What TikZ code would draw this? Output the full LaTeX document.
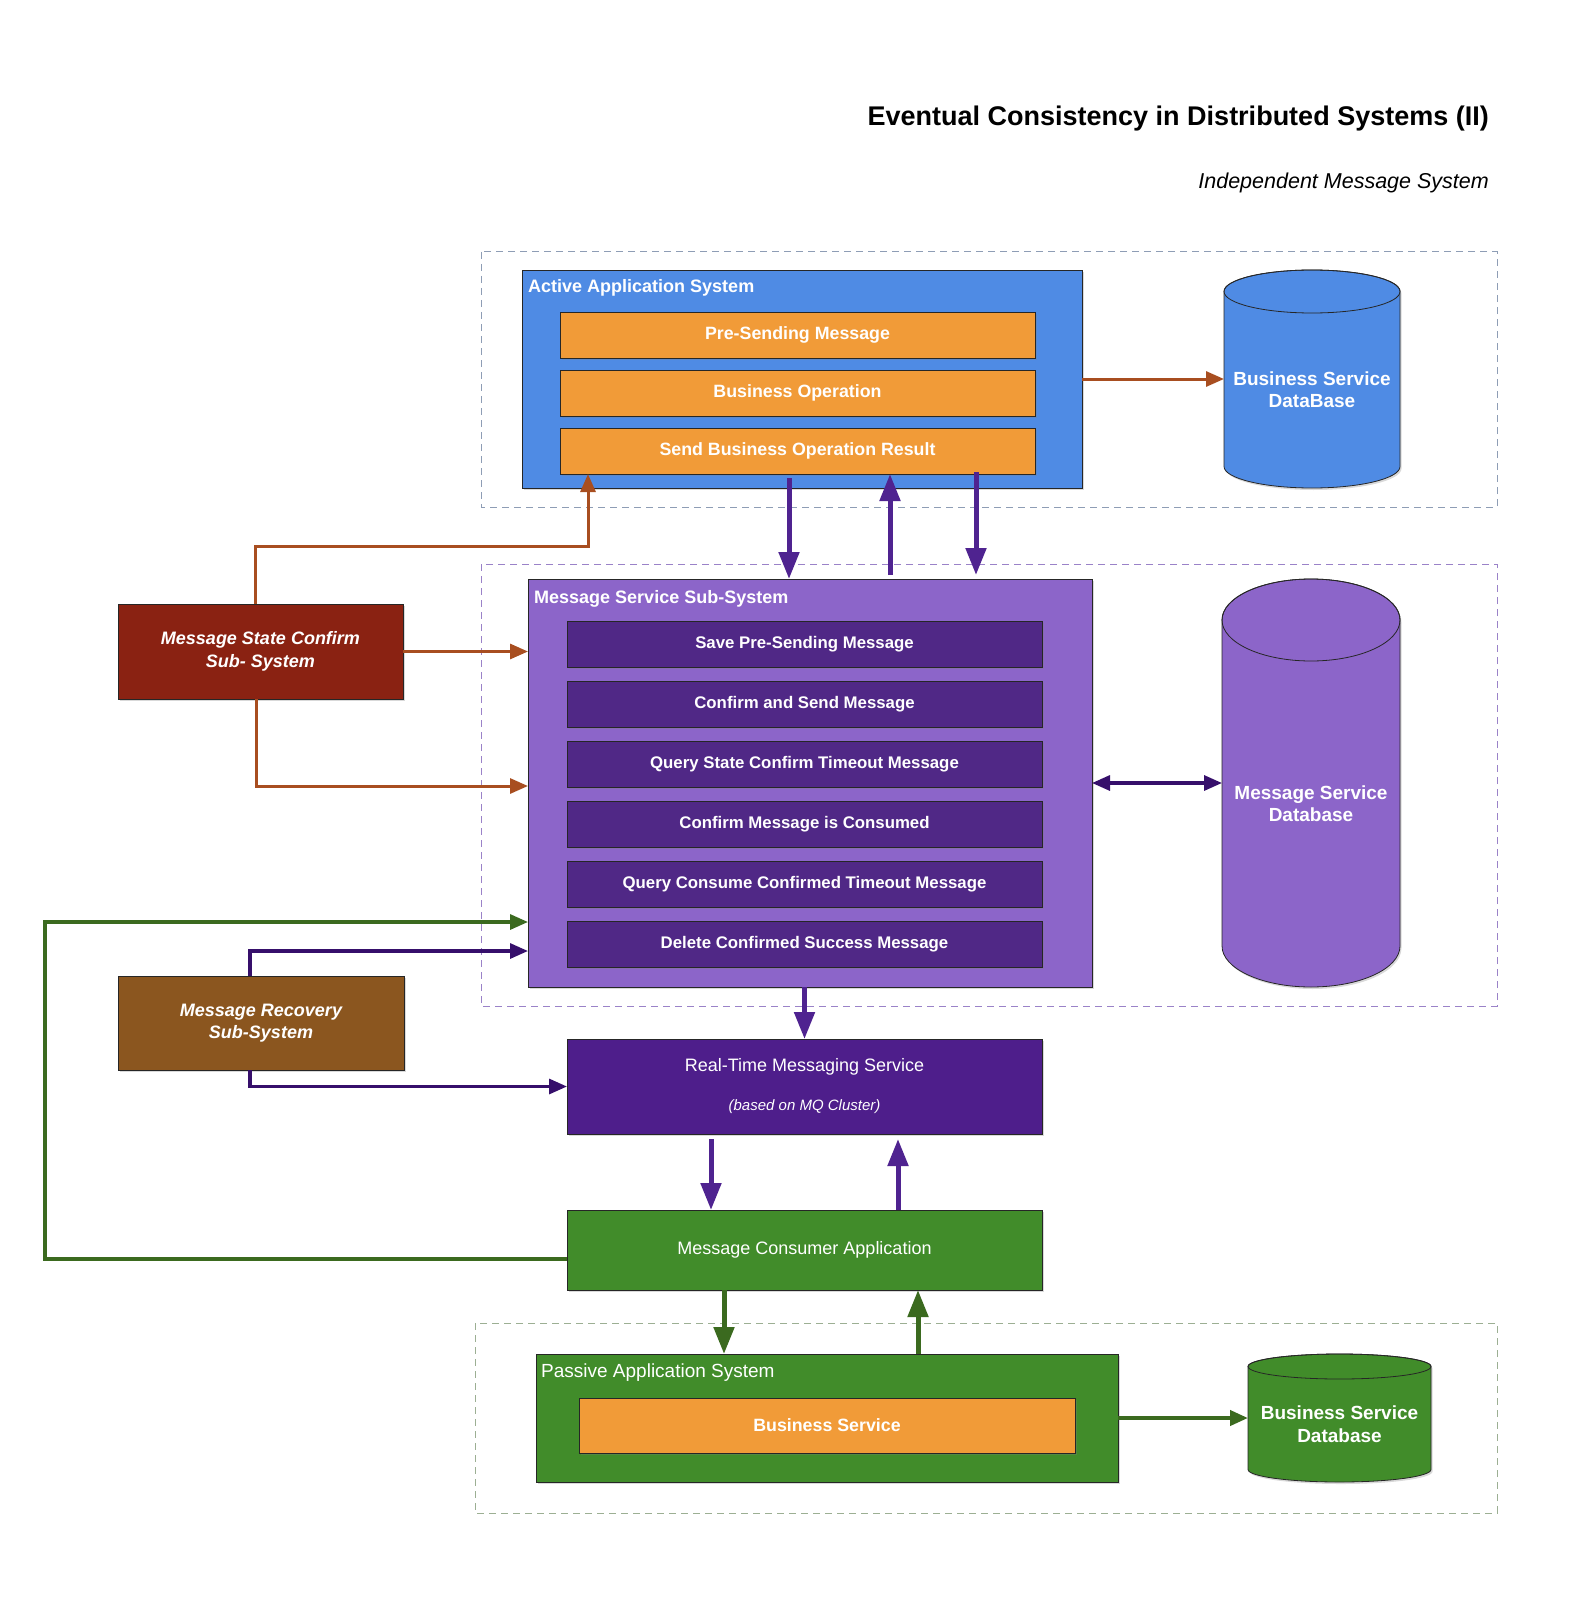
\documentclass[tikz,border=0pt]{standalone}
\usepackage{fontspec}
\setmainfont{Liberation Sans}
\usetikzlibrary{arrows.meta,shadows}

\definecolor{appblue}{HTML}{4F8BE4}
\definecolor{taskorange}{HTML}{F19B38}
\definecolor{msgpurple}{HTML}{8C65C9}
\definecolor{taskpurple}{HTML}{502886}
\definecolor{mqpurple}{HTML}{4E1E8B}
\definecolor{confirmred}{HTML}{8A2212}
\definecolor{recoverbrown}{HTML}{8B561F}
\definecolor{appgreen}{HTML}{418C2A}
\definecolor{linegreen}{HTML}{3B6A1F}
\definecolor{linebrown}{HTML}{A84E20}
\definecolor{lineviolet}{HTML}{4F2390}
\definecolor{linedark}{HTML}{360F6B}
\definecolor{frameblue}{HTML}{8E9DB5}
\definecolor{framepurple}{HTML}{9A82C8}
\definecolor{framegreen}{HTML}{9CAF93}

% name, x, y, width, height, cap, colour, text
\newcommand{\database}[8]{%
  \node[dbspace, minimum width=#4, minimum height=#5] (#1) at (#2,#3) {};
  \filldraw[fill=#7, dbline, drop shadow={shadow xshift=1.5pt, shadow yshift=-2pt, opacity=0.3}]
    ([yshift=-#6pt]#1.north west) -- ([yshift=#6pt]#1.south west)
    arc[start angle=180, end angle=360, x radius=#4pt/2, y radius=#6pt]
    -- ([yshift=-#6pt]#1.north east)
    arc[start angle=0, end angle=180, x radius=#4pt/2, y radius=#6pt] -- cycle;
  \draw[dbline] ([yshift=-#6pt]#1.north) ellipse[x radius=#4pt/2, y radius=#6pt];
  \node[dbtext] (#1 text) at ([yshift=-#6pt/2]#1.center) {#8};
}

\begin{document}
\begin{tikzpicture}[x=1pt, y=-1pt,
    box/.style={draw=black!85, line width=0.8pt, anchor=north west, inner sep=0pt, outer sep=0pt,
      text=white, align=center, drop shadow={shadow xshift=1.5pt, shadow yshift=-2pt, opacity=0.3}},
    boxtitle/.style={anchor=base west, inner sep=0pt, text=white, font=\fontsize{18}{22}\selectfont\bfseries},
    orangetask/.style={box, fill=taskorange, minimum width=475, minimum height=46, font=\fontsize{17.8}{21}\selectfont\bfseries},
    purpletask/.style={box, fill=taskpurple, minimum width=475, minimum height=46, font=\fontsize{16.8}{20}\selectfont\bfseries},
    subsystem/.style={box, font=\fontsize{18}{22.5}\selectfont\bfseries\itshape},
    dbspace/.style={anchor=north west, inner sep=0pt, outer sep=0pt},
    dbline/.style={draw=black!85, line width=0.8pt},
    dbtext/.style={text=white, align=center, font=\fontsize{19}{22.5}\selectfont\bfseries},
    frame/.style={line width=1pt, dash pattern=on 7pt off 5pt},
    bigflow/.style={line width=5pt, -{Triangle[length=27pt, width=20pt]}},
    brownflow/.style={line width=3pt, draw=linebrown, -{Triangle[length=18pt, width=15pt]}},
    thinflow/.style={line width=3.2pt, -{Triangle[length=18pt, width=15pt]}}]

\useasboundingbox (0,0) rectangle (1574,1602);

\node[anchor=base east, inner sep=0pt, font=\fontsize{27}{32}\selectfont\bfseries] (title) at (1489,126)
  {Eventual Consistency in Distributed Systems (II)};
\node[anchor=base east, inner sep=0pt, font=\fontsize{21.5}{26}\selectfont\itshape] (subtitle) at (1489,189)
  {Independent Message System};

\draw[frame, draw=frameblue] (481,252) rectangle (1497,507);
\draw[frame, draw=framepurple] (481,564) rectangle (1497,1006);
\draw[frame, draw=framegreen] (475,1323) rectangle (1497,1513);

% active application system
\node[box, fill=appblue, minimum width=560, minimum height=218] (active) at (522,270) {};
\node[boxtitle] (active title) at (528,293) {Active Application System};
\node[orangetask] (pre) at (560,312) {Pre-Sending Message};
\node[orangetask] (bizop) at (560,370) {Business Operation};
\node[orangetask] (sendres) at (560,428) {Send Business Operation Result};
\database{bsdb}{1224}{270}{176}{218}{21.5}{appblue}{Business Service\\DataBase}

% message service
\node[box, fill=msgpurple, minimum width=564, minimum height=408] (mss) at (528,579) {};
\node[boxtitle] (mss title) at (534,603) {Message Service Sub-System};
\foreach \txt [count=\i] in {Save Pre-Sending Message, Confirm and Send Message,
    Query State Confirm Timeout Message, Confirm Message is Consumed,
    Query Consume Confirmed Timeout Message, Delete Confirmed Success Message}
  \node[purpletask] (ms\i) at (567,561+60*\i) {\txt};
\database{msdb}{1222}{579}{178}{408}{41}{msgpurple}{Message Service\\Database}

\node[subsystem, fill=confirmred, minimum width=285, minimum height=95] (msc) at (118,604)
  {Message State Confirm\\Sub- System};
\node[subsystem, fill=recoverbrown, minimum width=286, minimum height=94] (recovery) at (118,976)
  {Message Recovery\\Sub-System};

\node[box, fill=mqpurple, minimum width=475, minimum height=95, font=\fontsize{18}{22}\selectfont] (rtms) at (567,1039)
  {Real-Time Messaging Service\\[17pt]{\fontsize{15}{18}\selectfont\itshape (based on MQ Cluster)}};
\node[box, fill=appgreen, minimum width=475, minimum height=80, font=\fontsize{18}{22}\selectfont] (consumer) at (567,1210)
  {Message Consumer Application};

% passive application system
\node[box, fill=appgreen, minimum width=582, minimum height=128] (passive) at (536,1354) {};
\node[boxtitle, font=\fontsize{19}{23}\selectfont] (passive title) at (541,1377) {Passive Application System};
\node[orangetask, minimum width=496, minimum height=55] (bizsvc) at (579,1398) {Business Service};
\database{bsdb2}{1248}{1354}{183}{128}{12.5}{appgreen}{Business Service\\Database}

\coordinate (loop corner) at (45,922);

\draw[brownflow] (active) -- (bsdb);
\draw[brownflow] ([xshift=-5pt]msc.north) |- ([xshift=28pt,yshift=-72pt]sendres.south west) -- ([xshift=28pt]sendres.south west);
\draw[brownflow] (msc) -- (msc -| mss.west);
\draw[brownflow] ([xshift=-4pt]msc.south) |- ([yshift=-3pt]mss.west);

\draw[bigflow, draw=lineviolet] ([xshift=229pt,yshift=-4pt]sendres.south west) -- ([xshift=229pt]sendres.south west |- mss.north);
\draw[bigflow, draw=lineviolet] ([xshift=330pt,yshift=4pt]sendres.south west |- mss.north) -- ([xshift=330pt]sendres.south west);
\draw[bigflow, draw=lineviolet] ([xshift=416pt,yshift=2pt]sendres.south west) -- ([xshift=416pt,yshift=4pt]sendres.south west |- mss.north);
\draw[thinflow, draw=linedark, {Triangle[length=18pt, width=15pt]}-{Triangle[length=18pt, width=15pt]}] (mss) -- (msdb);
\draw[bigflow, draw=lineviolet] (rtms.north |- mss.south) -- (rtms.north);

\draw[thinflow, draw=linegreen] ([yshift=-9pt]consumer.west) -| (loop corner) -- ([yshift=65pt]mss.south west);
\draw[thinflow, draw=linedark] ([xshift=-11pt]recovery.north) |- ([yshift=36pt]mss.south west);
\draw[thinflow, draw=linedark] ([xshift=-11pt]recovery.south) |- (rtms.west);

\draw[bigflow, draw=lineviolet] ([xshift=144pt,yshift=-5pt]rtms.south west) -- ([xshift=144pt]consumer.north west);
\draw[bigflow, draw=lineviolet] ([xshift=331pt]consumer.north west) -- ([xshift=331pt,yshift=-5pt]rtms.south west);
\draw[bigflow, draw=linegreen] ([xshift=157pt]consumer.south west) -- ([xshift=188pt]passive.north west);
\draw[bigflow, draw=linegreen] ([xshift=382pt]passive.north west) -- ([xshift=351pt]consumer.south west);
\draw[thinflow, draw=linegreen, line width=4pt] (passive) -- (bsdb2);
\end{tikzpicture}
\end{document}
